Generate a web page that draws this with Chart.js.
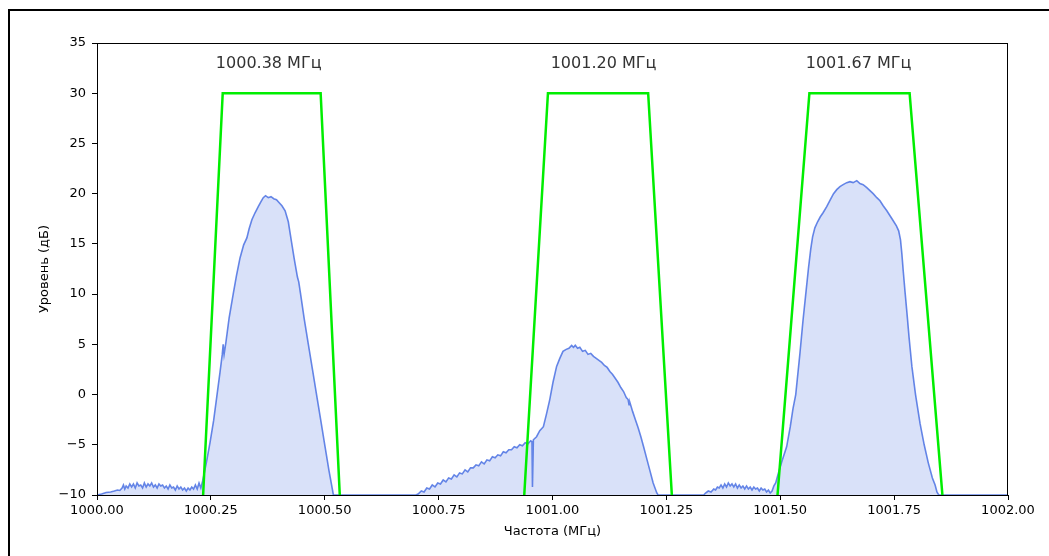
<!DOCTYPE html>
<html>
<head>
<meta charset="utf-8">
<script src="https://cdn.jsdelivr.net/npm/chart.js@4/dist/chart.umd.min.js"></script>
<style>
  html, body { margin: 0; padding: 0; background: #fff; overflow: hidden; }
  #wrap { position: relative; width: 1049px; height: 556px; }
  #frame { position: absolute; left: 8px; top: 9px; width: 1200px; height: 700px;
           border-top: 2px solid #000; border-left: 2px solid #000; pointer-events: none; }
</style>
</head>
<body>
<div id="wrap">
  <canvas id="spec" width="1049" height="556"></canvas>
  <div id="frame"></div>
</div>
<script>
// ----- data -----
const spectrumFreq = [
  1000.000, 1000.010, 1000.020, 1000.030, 1000.038, 1000.045, 1000.050, 1000.055, 1000.058, 1000.061,
  1000.064, 1000.068, 1000.072, 1000.076, 1000.080, 1000.084, 1000.088, 1000.092, 1000.096, 1000.100,
  1000.104, 1000.108, 1000.112, 1000.116, 1000.120, 1000.124, 1000.128, 1000.132, 1000.136, 1000.140,
  1000.144, 1000.148, 1000.152, 1000.156, 1000.160, 1000.164, 1000.168, 1000.172, 1000.176, 1000.180,
  1000.184, 1000.188, 1000.192, 1000.196, 1000.200, 1000.204, 1000.208, 1000.212, 1000.216, 1000.220,
  1000.224, 1000.228, 1000.232, 1000.240, 1000.248, 1000.256, 1000.263, 1000.270, 1000.275, 1000.277,
  1000.279, 1000.283, 1000.290, 1000.299, 1000.306, 1000.314, 1000.322, 1000.329, 1000.334, 1000.340,
  1000.347, 1000.354, 1000.360, 1000.365, 1000.370, 1000.376, 1000.382, 1000.388, 1000.394, 1000.400,
  1000.406, 1000.413, 1000.420, 1000.427, 1000.433, 1000.440, 1000.443, 1000.447, 1000.455, 1000.464,
  1000.473, 1000.482, 1000.491, 1000.500, 1000.509, 1000.519,
  // second carrier
  1000.700, 1000.705, 1000.712, 1000.718, 1000.724, 1000.730, 1000.736, 1000.742, 1000.748, 1000.754,
  1000.760, 1000.766, 1000.772, 1000.778, 1000.784, 1000.790, 1000.796, 1000.802, 1000.808, 1000.814,
  1000.820, 1000.826, 1000.832, 1000.838, 1000.844, 1000.850, 1000.856, 1000.862, 1000.868, 1000.874,
  1000.880, 1000.886, 1000.892, 1000.898, 1000.904, 1000.910, 1000.916, 1000.922, 1000.928, 1000.934,
  1000.940, 1000.946, 1000.952, 1000.955, 1000.956, 1000.958, 1000.965, 1000.972, 1000.980, 1000.987,
  1000.994, 1001.001, 1001.009, 1001.016, 1001.023, 1001.030, 1001.036, 1001.042, 1001.046, 1001.050,
  1001.055, 1001.060, 1001.066, 1001.072, 1001.078, 1001.084, 1001.090, 1001.096, 1001.102, 1001.108,
  1001.114, 1001.120, 1001.126, 1001.132, 1001.138, 1001.144, 1001.150, 1001.156, 1001.162, 1001.166,
  1001.168, 1001.170, 1001.176, 1001.182, 1001.188, 1001.194, 1001.200, 1001.207, 1001.214, 1001.221,
  1001.229, 1001.232,
  // third carrier
  1001.332, 1001.336, 1001.342, 1001.348, 1001.354, 1001.358, 1001.362, 1001.366, 1001.370, 1001.374,
  1001.378, 1001.382, 1001.386, 1001.390, 1001.394, 1001.398, 1001.402, 1001.406, 1001.410, 1001.414,
  1001.418, 1001.422, 1001.426, 1001.430, 1001.434, 1001.438, 1001.442, 1001.446, 1001.450, 1001.454,
  1001.458, 1001.462, 1001.466, 1001.470, 1001.474, 1001.478, 1001.482, 1001.486, 1001.490, 1001.496,
  1001.504, 1001.514, 1001.522, 1001.528, 1001.534, 1001.543, 1001.550, 1001.556, 1001.562, 1001.567,
  1001.571, 1001.576, 1001.582, 1001.588, 1001.594, 1001.602, 1001.610, 1001.617, 1001.624, 1001.631,
  1001.638, 1001.646, 1001.653, 1001.660, 1001.668, 1001.675, 1001.682, 1001.690, 1001.697, 1001.704,
  1001.712, 1001.719, 1001.726, 1001.734, 1001.741, 1001.748, 1001.755, 1001.760, 1001.764, 1001.767,
  1001.770, 1001.774, 1001.778, 1001.783, 1001.789, 1001.797, 1001.807, 1001.816, 1001.825, 1001.834,
  1001.840, 1001.844, 1001.848, 1002.000
];
const spectrumLevel = [
  -10, -9.9, -9.75, -9.7, -9.6, -9.5, -9.55, -9.3, -9.0, -9.4,
  -9.1, -9.3, -8.9, -9.2, -8.9, -9.3, -8.8, -9.1, -9.0, -9.3,
  -8.8, -9.2, -8.9, -9.1, -8.8, -9.2, -9.0, -9.3, -8.9, -9.1,
  -9.0, -9.3, -9.1, -9.4, -9.0, -9.3, -9.2, -9.5, -9.1, -9.4,
  -9.2, -9.5, -9.3, -9.6, -9.3, -9.5, -9.2, -9.4, -9.0, -9.4,
  -8.8, -9.3, -8.6, -6.8, -4.8, -2.6, -0.2, 2.2, 4.0, 5.0,
  4.0, 5.2, 7.6, 10.0, 11.8, 13.6, 14.9, 15.6, 16.5, 17.4,
  18.1, 18.7, 19.2, 19.6, 19.8, 19.6, 19.7, 19.5, 19.4, 19.1,
  18.8, 18.3, 17.2, 15.2, 13.5, 11.7, 11.2, 10.0, 7.5, 5.0,
  2.5, 0.0, -2.5, -5.0, -7.5, -10,
  -10, -9.9, -9.6, -9.7, -9.3, -9.4, -9.0, -9.2, -8.8, -8.9,
  -8.5, -8.7, -8.3, -8.4, -8.0, -8.2, -7.8, -7.9, -7.5, -7.7,
  -7.3, -7.3, -7.0, -7.1, -6.7, -6.9, -6.5, -6.6, -6.2, -6.3,
  -6.0, -6.1, -5.7, -5.8, -5.5, -5.5, -5.2, -5.3, -5.0, -5.1,
  -4.8, -4.9, -4.6, -4.7, -9.2, -4.5, -4.2, -3.6, -3.2, -1.9,
  -0.5, 1.2, 2.8, 3.6, 4.3, 4.5, 4.6, 4.9, 4.7, 4.9,
  4.6, 4.7, 4.3, 4.4, 4.0, 4.1, 3.8, 3.6, 3.4, 3.2,
  2.9, 2.7, 2.3, 2.0, 1.6, 1.2, 0.7, 0.3, -0.3, -0.5,
  -1.0, -0.8, -1.7, -2.5, -3.3, -4.2, -5.2, -6.4, -7.6, -8.8,
  -9.8, -10,
  -10, -9.8, -9.6, -9.7, -9.4, -9.5, -9.2, -9.3, -9.0, -9.3,
  -8.9, -9.2, -8.8, -9.1, -8.9, -9.2, -8.9, -9.3, -9.0, -9.3,
  -9.1, -9.4, -9.1, -9.4, -9.2, -9.5, -9.2, -9.4, -9.3, -9.6,
  -9.3, -9.5, -9.4, -9.7, -9.5, -9.8, -9.6, -9.1, -8.8, -7.8,
  -6.6, -5.2, -3.2, -1.4, 0.0, 4.0, 7.4, 10.0, 12.6, 14.5,
  15.7, 16.6, 17.2, 17.7, 18.1, 18.7, 19.4, 20.0, 20.4, 20.7,
  20.9, 21.1, 21.2, 21.1, 21.3, 21.0, 20.9, 20.6, 20.3, 20.0,
  19.6, 19.3, 18.8, 18.3, 17.8, 17.3, 16.8, 16.3, 15.4, 14.0,
  12.3, 10.2, 8.2, 5.6, 2.8, 0.0, -2.9, -5.0, -6.8, -8.3,
  -9.0, -9.7, -10, -10
];

// channel masks (trapezoids)
const mask1Freq = [1000.233, 1000.276, 1000.491, 1000.533];
const mask2Freq = [1000.938, 1000.990, 1001.210, 1001.262];
const mask3Freq = [1001.494, 1001.564, 1001.784, 1001.856];
const maskLevel = [-10, 30, 30, -10];

// carrier labels
const carrierFreq = [1000.377, 1001.112, 1001.672];
const carrierText = ['1000.38 МГц', '1001.20 МГц', '1001.67 МГц'];
const carrierLevel = 32.9;

const xTicks = { min: 1000, max: 1002, step: 0.25 };
const yTicks = { min: -10, max: 35, step: 5 };

const pts = (xs, ys) => xs.map((x, i) => ({ x: x, y: ys[i] }));

// box around the axes + carrier labels
const extras = {
  id: 'extras',
  afterDatasetsDraw(chart) {
    const { ctx, chartArea: a, scales } = chart;
    ctx.save();
    ctx.strokeStyle = '#000';
    ctx.lineWidth = 1;
    ctx.strokeRect(a.left + 0.5, a.top + 0.5, a.right - a.left - 1, a.bottom - a.top);
    ctx.fillStyle = '#333';
    ctx.font = '16px "DejaVu Sans"';
    ctx.textAlign = 'center';
    ctx.textBaseline = 'middle';
    carrierFreq.forEach((f, i) => {
      ctx.fillText(carrierText[i], scales.x.getPixelForValue(f), scales.y.getPixelForValue(carrierLevel));
    });
    ctx.restore();
  }
};

const maskStyle = {
  borderColor: '#00ee00',
  borderWidth: 2.5,
  pointRadius: 0,
  fill: false,
  tension: 0,
  order: 0
};

new Chart(document.getElementById('spec'), {
  type: 'line',
  data: {
    datasets: [
      Object.assign({ data: pts(mask1Freq, maskLevel) }, maskStyle),
      Object.assign({ data: pts(mask2Freq, maskLevel) }, maskStyle),
      Object.assign({ data: pts(mask3Freq, maskLevel) }, maskStyle),
      {
        data: pts(spectrumFreq, spectrumLevel),
        borderColor: 'rgba(65, 105, 225, 0.8)',
        backgroundColor: 'rgba(65, 105, 225, 0.2)',
        borderWidth: 1.6,
        pointRadius: 0,
        fill: 'start',
        tension: 0,
        order: 1
      }
    ]
  },
  options: {
    responsive: false,
    animation: false,
    devicePixelRatio: 1,
    layout: { padding: { top: 43, right: 41, left: 0, bottom: 0 } },
    plugins: { legend: { display: false }, tooltip: { enabled: false } },
    scales: {
      x: {
        type: 'linear',
        min: xTicks.min,
        max: xTicks.max,
        afterFit: s => { s.height = 61; },
        grid: { drawOnChartArea: false, drawTicks: true, tickLength: 5, color: '#000' },
        border: { display: true, color: '#000', width: 1 },
        ticks: {
          stepSize: xTicks.step,
          color: '#000',
          padding: 3,
          maxRotation: 0,
          font: { family: 'DejaVu Sans', size: 13 },
          callback: v => Number(v).toFixed(2)
        },
        title: {
          display: true,
          text: 'Частота (МГц)',
          color: '#000',
          font: { family: 'DejaVu Sans', size: 13 },
          padding: { top: 0, bottom: 17 }
        }
      },
      y: {
        type: 'linear',
        min: yTicks.min,
        max: yTicks.max,
        afterFit: s => { s.width = 97; },
        grid: { drawOnChartArea: false, drawTicks: true, tickLength: 5, color: '#000' },
        border: { display: true, color: '#000', width: 1 },
        ticks: {
          stepSize: yTicks.step,
          color: '#000',
          padding: 6,
          font: { family: 'DejaVu Sans', size: 13 },
          callback: v => String(v).replace('-', '\u2212')
        },
        title: {
          display: true,
          text: 'Уровень (дБ)',
          color: '#000',
          font: { family: 'DejaVu Sans', size: 13 },
          padding: { top: 37, bottom: 0 }
        }
      }
    }
  },
  plugins: [extras]
});
</script>
</body>
</html>
